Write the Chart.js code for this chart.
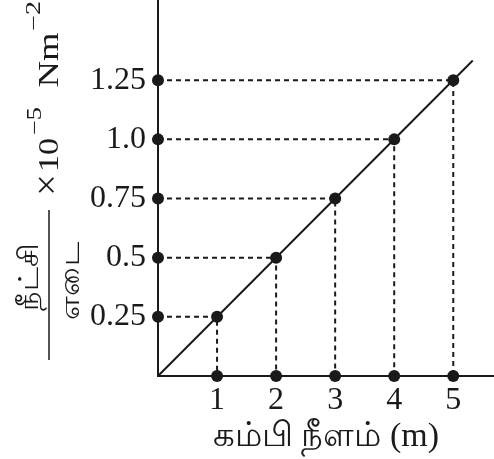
<!DOCTYPE html>
<html>
<head>
<meta charset="utf-8">
<script src="https://cdn.jsdelivr.net/npm/chart.js@4"></script>
<style>
  html, body { margin: 0; padding: 0; background: #fff; }
</style>
</head>
<body>
<canvas id="graf" width="494" height="459"></canvas>
<script>
// datos
const longitudes = [1, 2, 3, 4, 5];
const esfuerzos = [0.25, 0.5, 0.75, 1.0, 1.25];
const etiquetasX = ['1', '2', '3', '4', '5'];
const etiquetasY = ['0.25', '0.5', '0.75', '1.0', '1.25'];
const rectaX = [0, 5.33];
const rectaY = [0, 1.333];

const negro = '#1a1a1a';
const fuente = '"Liberation Serif", "DejaVu Serif", serif';

// una linea punteada por cada punto: eje y -> punto -> eje x
const guias = longitudes.map((x, i) => ({
    type: 'line',
    data: [{x: 0, y: esfuerzos[i]}, {x: x, y: esfuerzos[i]}, {x: x, y: 0}],
    borderColor: negro,
    borderWidth: 2,
    borderDash: [5, 4],
    pointRadius: 6,
    pointBackgroundColor: negro,
    pointBorderWidth: 0,
    clip: false
}));

// texto rotado; si se da largo, se estira a ese largo
function textoRotado(c, txt, bx, cy, size, largo) {
    c.save();
    c.translate(bx, cy);
    c.rotate(-Math.PI / 2);
    c.font = size + 'px ' + fuente;
    if (largo) {
        const w = c.measureText(txt).width;
        c.scale(largo / w, 1);
    }
    c.textAlign = 'center';
    c.textBaseline = 'alphabetic';
    c.fillStyle = negro;
    c.fillText(txt, 0, 0);
    c.restore();
}

const tituloY = {
    id: 'tituloY',
    afterDraw(chart) {
        const c = chart.ctx;
        textoRotado(c, '×', 59, 185, 38);
        textoRotado(c, '10', 58, 155, 30, 34);
        textoRotado(c, '−5', 41, 121, 20, 28);
        textoRotado(c, 'Nm', 58, 60, 30, 55);
        textoRotado(c, '−2', 40, 16, 20, 30);
        textoRotado(c, 'நீட்சி', 38, 277, 28, 67);
        textoRotado(c, 'எடை', 79, 281, 28, 77);
        c.save();
        c.strokeStyle = negro;
        c.lineWidth = 1.5;
        c.beginPath();
        c.moveTo(49, 210);
        c.lineTo(49, 360);
        c.stroke();
        c.restore();
    }
};

const grafica = new Chart(document.getElementById('graf'), {
    type: 'line',
    data: {
        datasets: [
            {
                type: 'line',
                data: rectaX.map((x, i) => ({x: x, y: rectaY[i]})),
                borderColor: negro,
                borderWidth: 2,
                pointRadius: 0,
                clip: false
            },
            ...guias
        ]
    },
    options: {
        responsive: false,
        animation: false,
        devicePixelRatio: 1,
        layout: { padding: 0, autoPadding: false },
        plugins: {
            legend: { display: false },
            tooltip: { enabled: false }
        },
        scales: {
            x: {
                type: 'linear',
                min: 0,
                max: 5.69,
                grid: { display: false, drawTicks: false },
                border: { display: true, color: negro, width: 2 },
                afterBuildTicks: (s) => { s.ticks = longitudes.map(v => ({value: v})); },
                afterFit: (s) => { s.height = 83; s.paddingLeft = 0; s.paddingRight = 0; },
                ticks: {
                    padding: 5,
                    color: negro,
                    font: { family: fuente, size: 32 },
                    maxRotation: 0,
                    callback: (v, i) => etiquetasX[i]
                },
                title: {
                    display: true,
                    text: 'கம்பி நீளம் (m)',
                    color: negro,
                    font: { family: fuente, size: 34 },
                    padding: { top: 0, bottom: 2 }
                }
            },
            y: {
                type: 'linear',
                min: 0,
                max: 1.589,
                grid: { display: false, drawTicks: false },
                border: { display: true, color: negro, width: 2 },
                afterBuildTicks: (s) => { s.ticks = esfuerzos.map(v => ({value: v})); },
                afterFit: (s) => { s.width = 158; s.paddingTop = 0; s.paddingBottom = 0; },
                ticks: {
                    padding: 12,
                    color: negro,
                    font: { family: fuente, size: 32 },
                    callback: (v, i) => etiquetasY[i]
                }
            }
        }
    },
    plugins: [tituloY]
});
</script>
</body>
</html>
